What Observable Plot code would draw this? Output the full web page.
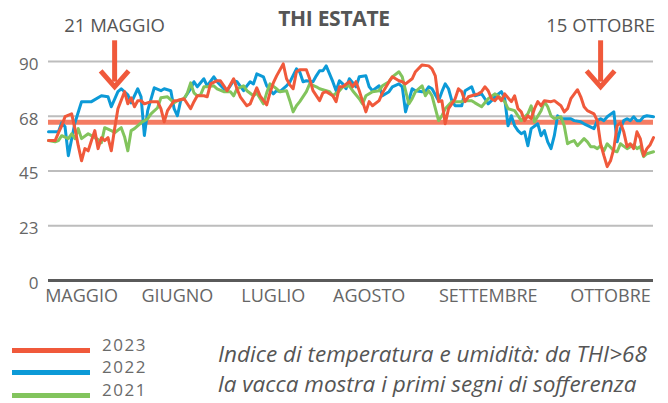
<!DOCTYPE html>
<html><head><meta charset="utf-8">
<script src="https://cdn.jsdelivr.net/npm/d3@7"></script>
<script src="https://cdn.jsdelivr.net/npm/@observablehq/plot@0.6"></script>
<style>
body{margin:0;background:#fff;}
#wrap{position:relative;width:668px;height:403px;overflow:hidden;font-family:"Open Sans",sans-serif;background:#fff;}
#chart{position:absolute;left:0;top:0;}
#title{position:absolute;left:0;top:4px;width:668px;text-align:center;font-weight:700;font-size:21px;color:#555;letter-spacing:-0.3px;}
.sw{position:absolute;left:12px;width:78px;height:5px;}
.lt{position:absolute;left:102px;font-size:17px;color:#6a6a6a;line-height:18px;height:18px;letter-spacing:1.5px;}
#cap{position:absolute;left:218px;top:339px;font-style:italic;font-size:22.5px;color:#555;line-height:30px;white-space:nowrap;}
</style></head>
<body><div id="wrap"><div id="chart"></div><div id="title"></div><div id="legend"></div><div id="cap"></div></div>
<script>
// ---- data (day 0 = 1 maggio) ----
const days2023 = [0,2,3,4,5,7,8,9,10,11,12,13,14,15,16,17,18,19,20,21,23,24,25,26,27,28,29,31,33,34,35,36,38,39,41,43,44,45,47,48,49,51,52,54,56,57,58,60,61,63,64,66,67,68,69,71,72,73,74,75,76,78,79,80,82,83,84,86,87,88,89,91,92,93,94,96,97,98,100,101,103,104,106,107,108,110,111,113,115,116,117,118,119,120,121,122,123,124,125,126,127,128,130,131,132,133,134,135,136,137,138,140,141,142,143,144,145,146,147,148,149,150,152,153,155,156,157,158,160,161,162,163,165,166,167,168,169,170,171,172,173,174,175,176,177,178,179,180,181,182,183];
const thi2023 = [57.5,57.5,60.7,63.6,67.3,68.5,62.4,55.4,49.2,54.2,53.3,57.5,61.6,54.2,58.7,57.5,58.7,53.3,62.4,70.6,77.6,72.6,75.1,71.4,73.9,73.9,72.6,73.5,73.5,70.6,65.2,69.8,73.9,74.0,74.7,70.6,73.5,75.9,75.9,75.5,80.8,82.1,82.1,78.0,82.9,78.8,75.5,71.8,72.6,79.2,75.9,72.2,77.1,81.2,84.1,89.0,82.9,80.4,78.8,85.8,86.6,86.6,82.9,78.0,73.9,77.1,77.6,75.9,73.5,79.6,79.6,81.7,79.6,81.7,78.0,69.3,73.5,71.8,73.9,77.1,81.7,83.7,82.1,81.7,80.8,82.9,85.8,88.6,88.2,87.0,84.1,73.5,73.9,64.4,70.6,72.6,74.7,78.8,77.6,73.5,75.5,75.9,76.7,77.6,79.6,78.0,74.7,73.9,75.5,73.9,76.7,73.5,75.9,70.6,69.3,65.7,67.7,66.5,70.6,73.5,71.8,73.9,73.5,73.9,71.8,69.3,70.6,74.7,78.4,75.5,71.4,69.8,68.5,65.7,56.2,51.3,46.8,49.2,54.2,63.6,64.8,61.1,55.0,56.2,54.2,61.1,58.3,51.3,54.2,55.8,58.7];

const days2022 = [0,3,4,5,6,8,10,13,16,18,19,21,22,24,25,27,28,29,30,32,34,35,37,38,39,40,41,43,44,45,47,48,50,51,53,54,56,57,59,60,61,62,63,65,66,68,69,70,72,73,75,76,77,78,80,81,82,83,84,86,87,88,89,90,91,93,94,96,97,98,100,101,103,104,106,107,108,110,111,113,114,115,116,118,119,120,121,122,123,125,126,128,129,131,132,133,134,135,137,138,139,140,141,142,143,144,145,146,148,149,150,151,152,153,154,155,156,158,159,161,162,165,166,167,168,169,171,172,173,174,175,176,177,178,179,180,181,183];
const thi2022 = [61.1,61.1,64.8,63.2,51.3,64.8,73.5,73.5,75.9,75.5,71.4,77.6,78.8,76.3,73.0,78.8,75.5,59.6,69.8,79.2,78.0,78.8,78.0,70.6,67.7,74.0,74.7,78.8,81.7,79.6,82.9,80.0,83.7,81.7,78.8,78.0,82.1,81.7,78.0,80.0,81.7,80.8,84.9,83.7,80.0,76.7,78.0,77.6,80.0,81.5,87.0,85.7,81.7,82.1,81.7,84.1,86.2,86.2,88.2,81.7,78.0,82.1,80.8,78.8,82.9,79.6,83.7,84.1,79.6,78.0,80.0,75.9,77.6,79.6,80.8,79.6,69.3,78.8,78.0,77.6,77.6,79.6,78.8,73.9,77.6,80.8,78.8,73.9,71.8,71.8,78.0,79.6,75.9,76.7,74.7,72.6,73.9,75.5,77.6,74.7,63.6,67.7,63.6,61.6,60.3,61.1,55.4,62.4,64.4,59.5,61.6,57.0,54.2,59.5,67.7,66.5,66.5,66.5,65.7,65.2,64.4,62.4,65.7,66.5,65.7,67.3,69.3,57.0,62.4,65.7,66.5,65.7,67.3,65.7,65.7,67.3,67.7,67.3];

const days2021 = [0,2,3,4,6,7,8,9,10,12,14,15,16,17,19,20,22,23,24,25,26,28,30,31,33,34,36,38,39,41,42,43,44,45,46,47,48,50,51,53,55,56,57,59,60,62,63,65,66,67,69,70,72,73,74,75,76,78,79,81,82,84,85,86,88,89,91,92,94,95,96,98,100,101,103,104,106,107,108,109,110,111,113,114,115,116,118,119,120,122,123,125,126,128,129,131,133,135,136,138,139,141,142,143,145,146,147,149,150,151,152,153,155,156,157,158,159,160,162,163,164,165,166,167,168,169,171,172,173,175,176,177,178,179,180,181,183];
const thi2021 = [57.5,57.0,57.5,59.5,58.3,60.3,58.3,62.4,58.3,60.3,58.7,57.9,56.6,62.8,61.6,60.7,62.8,59.1,53.3,61.6,62.4,64.8,66.5,68.5,71.0,75.1,75.5,73.0,73.9,74.7,77.1,81.2,77.1,75.9,76.3,79.6,79.6,80.0,78.8,77.6,77.6,75.9,78.8,80.0,78.0,75.9,77.1,72.6,77.1,80.8,78.8,77.6,78.0,73.9,69.3,71.8,73.5,77.6,80.8,79.6,78.8,78.0,77.6,75.9,78.0,79.6,80.0,78.0,74.7,72.6,75.9,77.6,78.0,80.0,81.7,83.7,85.8,83.7,78.0,72.6,74.7,77.6,80.0,75.9,78.0,75.9,65.7,67.7,70.6,73.5,73.5,73.5,73.9,73.9,73.0,71.4,74.7,76.7,75.9,73.5,70.6,69.8,67.7,65.7,68.5,71.8,65.2,69.8,73.5,71.4,67.7,66.5,67.3,63.6,56.2,57.0,57.5,55.4,58.3,57.0,55.0,55.0,54.2,55.4,53.3,56.2,53.3,52.9,56.2,54.2,55.0,55.8,54.2,55.0,50.9,52.1,52.9];

const years = ["2023", "2022", "2021"];
const yearColors = ["#f0593b", "#0c9ad7", "#82c45d"];
const yTicks = [0, 22.5, 45, 67.5, 90];
const monthLabels = ["MAGGIO", "GIUGNO", "LUGLIO", "AGOSTO", "SETTEMBRE", "OTTOBRE"];
const monthTickDays = [10, 39, 68, 97, 133, 170];
const threshold = 65;
const annotDays = [20, 167];
const annotLabels = ["21 MAGGIO", "15 OTTOBRE"];
const titleText = "THI ESTATE";
const captionLines = ["Indice di temperatura e umidità: da THI>68", "la vacca mostra i primi segni di sofferenza"];

// ---- build rows ----
const rows = [];
[[days2022, thi2022, "2022"], [days2021, thi2021, "2021"], [days2023, thi2023, "2023"]].forEach(([ds, vs, yr]) => {
  ds.forEach((d, i) => rows.push({day: d, thi: vs[i], year: yr}));
});
const annots = annotDays.map((d, i) => ({day: d, label: annotLabels[i]}));

const chevron = {draw(ctx) { ctx.moveTo(-14, -8); ctx.lineTo(0, 8); ctx.lineTo(14, -8); }};
const red = yearColors[0];

const chart = Plot.plot({
  width: 668, height: 312,
  marginTop: 61, marginBottom: 32, marginLeft: 48, marginRight: 15,
  style: {fontFamily: "Open Sans, sans-serif", color: "#666", background: "transparent", overflow: "visible"},
  x: {domain: [0, 183], axis: null},
  y: {domain: [0, 90], axis: null},
  color: {domain: years, range: yearColors},
  marks: [
    Plot.gridY(yTicks, {stroke: "#bdbdbd", strokeOpacity: 1, strokeWidth: 2}),
    Plot.axisY(yTicks, {label: null, tickSize: 0, tickPadding: 10, fontSize: 17, dy: 3, tickFormat: d => Math.round(d)}),
    Plot.axisX(monthTickDays, {label: null, tickSize: 0, tickPadding: 9, fontSize: 18, tickFormat: d => monthLabels[monthTickDays.indexOf(d)]}),
    Plot.ruleY([0], {stroke: "#5a5a5a", strokeWidth: 3}),
    Plot.ruleY([threshold], {stroke: "#f47c63", strokeWidth: 5}),
    Plot.line(rows, {x: "day", y: "thi", z: "year", stroke: "year", strokeWidth: 3, strokeLinejoin: "round"}),
    Plot.ruleX(annots, {x: "day", y1: 98.5, y2: 81.5, stroke: red, strokeWidth: 5}),
    Plot.dot(annots, {x: "day", y: 82.9, symbol: chevron, stroke: red, strokeWidth: 5, fill: "none", strokeLinejoin: "miter"}),
    Plot.text(annots, {x: "day", text: "label", frameAnchor: "top", dy: -43, fontSize: 18.5, fill: "#555"})
  ]
});
document.getElementById("chart").appendChild(chart);
document.getElementById("title").textContent = titleText;

const legendTops = [348, 370, 393];
const legend = document.getElementById("legend");
years.forEach((y, i) => {
  const sw = document.createElement("div");
  sw.className = "sw"; sw.style.top = legendTops[i] + "px"; sw.style.background = yearColors[i];
  legend.appendChild(sw);
  const t = document.createElement("div");
  t.className = "lt"; t.style.top = (legendTops[i] - 12) + "px"; t.textContent = y;
  legend.appendChild(t);
});
document.getElementById("cap").innerHTML = captionLines.join("<br>");
</script>
</body></html>
